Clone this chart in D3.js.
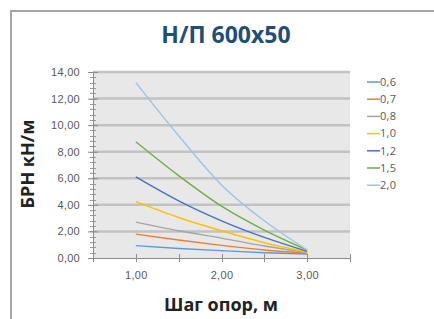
<!DOCTYPE html>
<html>
<head>
<meta charset="utf-8">
<script src="https://cdn.jsdelivr.net/npm/d3@7"></script>
<style>
  body { margin: 0; background: #fff; }
  svg { display: block; font-family: "Open Sans", sans-serif; }
</style>
</head>
<body>
<svg id="chart" width="434" height="319"></svg>
<script>
// шаг опор, м
const steps = [1.0, 1.5, 2.0, 2.5, 3.0];
const seriesNames = ["0,6", "0,7", "0,8", "1,0", "1,2", "1,5", "2,0"];
const seriesColors = ["#5b9bd5", "#ed7d31", "#a5a5a5", "#ffc000", "#4472c4", "#70ad47", "#9dc3e6"];
const s06 = [0.93, 0.72, 0.55, 0.40, 0.30];
const s07 = [1.80, 1.35, 0.95, 0.60, 0.35];
const s08 = [2.70, 2.05, 1.50, 0.90, 0.40];
const s10 = [4.25, 3.05, 2.05, 1.15, 0.45];
const s12 = [6.10, 4.30, 2.80, 1.55, 0.50];
const s15 = [8.75, 6.20, 3.90, 2.10, 0.60];
const s20 = [13.2, 9.20, 5.50, 2.80, 0.60];
const yTicks = [0, 2, 4, 6, 8, 10, 12, 14];
const xTicks = [1, 2, 3];

const allSeries = [s06, s07, s08, s10, s12, s15, s20];

const margin = {top: 72, left: 93, right: 84, bottom: 61},
    width = 434 - margin.left - margin.right,
    height = 319 - margin.top - margin.bottom;

const svg = d3.select("#chart");

// outer frame
svg.append("rect")
    .attr("x", 11).attr("y", 11)
    .attr("width", 440).attr("height", 330)
    .attr("fill", "none")
    .attr("stroke", "#a6a6a6")
    .attr("stroke-width", 2);

svg.append("text")
    .attr("x", 226).attr("y", 43)
    .attr("text-anchor", "middle")
    .attr("fill", "#1f4e79")
    .style("font-size", "23px")
    .style("font-weight", "bold")
    .text("Н/П 600x50");

const g = svg.append("g")
    .attr("transform", "translate(" + margin.left + "," + margin.top + ")");

const x = d3.scaleLinear().domain([0.5, 3.5]).range([0, width]);
const y = d3.scaleLinear().domain([0, 14]).range([height, 0]);

const fmt = function (d) { return d3.format(".2f")(d).replace(".", ","); };

g.append("rect")
    .attr("width", width).attr("height", height)
    .attr("fill", "#e8e8e8");

// gridlines
g.selectAll(".grid")
    .data(yTicks.slice(1))
    .enter()
    .append("line")
    .attr("class", "grid")
    .attr("x1", 0).attr("x2", width)
    .attr("y1", function (d) { return y(d); })
    .attr("y2", function (d) { return y(d); })
    .attr("stroke", "#c2c2c2")
    .attr("stroke-width", 2.5);

// y axis: minor + major ticks
const yMinor = d3.range(0, 14.01, 0.4);
g.selectAll(".yminor")
    .data(yMinor)
    .enter()
    .append("line")
    .attr("x1", -3).attr("x2", 3)
    .attr("y1", function (d) { return Math.round(y(d)) + 0.5; })
    .attr("y2", function (d) { return Math.round(y(d)) + 0.5; })
    .attr("stroke", "#9a9a9a");

g.append("g")
    .attr("class", "y-axis")
    .call(d3.axisLeft(y).tickValues(yTicks).tickFormat(fmt).tickSize(5).tickPadding(8))
    .call(function (a) {
        a.select(".domain").attr("stroke", "#8c8c8c");
        a.selectAll(".tick line").attr("stroke", "#8c8c8c").attr("x2", 5).attr("x1", -5);
        a.selectAll("text").attr("fill", "#595959").style("font-size", "11px")
            .style("letter-spacing", "0.3px");
    });

// x axis
const xAxisG = g.append("g")
    .attr("class", "x-axis")
    .attr("transform", "translate(0," + height + ")");

xAxisG.selectAll(".xt")
    .data(d3.range(0.5, 3.51, 0.5))
    .enter()
    .append("line")
    .attr("x1", function (d) { return Math.round(x(d)) + 0.5; })
    .attr("x2", function (d) { return Math.round(x(d)) + 0.5; })
    .attr("y1", -4).attr("y2", 4)
    .attr("stroke", "#8c8c8c");

xAxisG.call(d3.axisBottom(x).tickValues(xTicks).tickFormat(fmt).tickSize(0).tickPadding(13))
    .call(function (a) {
        a.select(".domain").attr("stroke", "#8c8c8c");
        a.selectAll("text").attr("fill", "#595959").style("font-size", "11px")
            .style("letter-spacing", "0.3px");
    });

// lines
const line = d3.line()
    .x(function (d, i) { return x(steps[i]); })
    .y(function (d) { return y(d); })
    .curve(d3.curveMonotoneX);

g.selectAll(".series")
    .data(allSeries)
    .enter()
    .append("path")
    .attr("class", "series")
    .attr("d", line)
    .attr("fill", "none")
    .attr("stroke", function (d, i) { return seriesColors[i]; })
    .attr("stroke-width", 1.4);

// axis titles
svg.append("text")
    .attr("transform", "translate(34,164) rotate(-90)")
    .attr("text-anchor", "middle")
    .attr("fill", "#222")
    .style("font-size", "18px")
    .style("font-weight", "bold")
    .text("БРН кН/м");

svg.append("text")
    .attr("x", 221).attr("y", 311)
    .attr("text-anchor", "middle")
    .attr("fill", "#222")
    .style("font-size", "18px")
    .style("font-weight", "bold")
    .text("Шаг опор, м");

// legend
const legend = svg.selectAll(".legend")
    .data(seriesNames)
    .enter()
    .append("g")
    .attr("class", "legend")
    .attr("transform", function (d, i) { return "translate(367," + (82 + i * 17.2) + ")"; });

legend.append("line")
    .attr("x1", 0).attr("x2", 13)
    .attr("stroke", function (d, i) { return seriesColors[i]; })
    .attr("stroke-width", 1.5);

legend.append("text")
    .attr("x", 13).attr("dy", "0.35em")
    .attr("fill", "#595959")
    .style("font-size", "11px")
    .style("letter-spacing", "0.3px")
    .text(function (d) { return d; });
</script>
</body>
</html>
